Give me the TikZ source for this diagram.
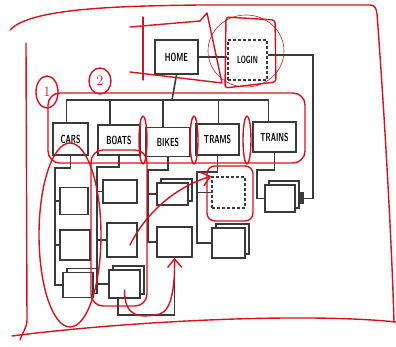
\documentclass[tikz,border=0pt]{standalone}
\usepackage{tikz}
\usetikzlibrary{positioning,arrows.meta,calc,shapes.geometric,shadows}
\definecolor{inkc}{RGB}{58,58,58}
\definecolor{notec}{RGB}{214,18,32}
\newcommand{\scrawl}[1]{\scalebox{0.8}[1.3]{\sffamily\bfseries #1}}
\tikzset{
  page/.style  = {draw=inkc, line width=1.6pt, fill=white, inner sep=0pt, font=\small},
  pile/.style  = {page, copy shadow={shadow xshift=4pt, shadow yshift=4pt, draw=inkc,
                  fill=white, line width=1.6pt}},
  ghost/.style = {page, densely dashed},
  link/.style  = {draw=inkc, line width=1.6pt},
  note/.style  = {draw=notec, line width=1.4pt, line cap=round, line join=round},
  num/.style   = {text=notec, inner sep=0pt, font=\Large},
  plug/.style  = {fill=inkc, minimum width=5pt, minimum height=12pt, inner sep=0pt},
  shove/.style = {note, -{Straight Barb[length=3mm, width=5mm]}},
}

\begin{document}
\begin{tikzpicture}[x=1pt, y=-1pt]
\useasboundingbox (0,0) rectangle (396,347);

% top level
\node[page, minimum width=43, minimum height=34] (home) at (176.5,57) {\scrawl{HOME}};
\node[ghost, minimum width=39, minimum height=40] (login) at (247.5,60) {\scrawl{\footnotesize LOGIN}};

% sections
\node[page, minimum width=35, minimum height=32] (cars)   at (70.5,139) {\scrawl{CARS}};
\node[page, minimum width=42, minimum height=30] (boats)  at (119,140)  {\scrawl{BOATS}};
\node[page, minimum width=44, minimum height=29] (bikes)  at (168,142)  {\scrawl{BIKES}};
\node[page, minimum width=43, minimum height=31] (trams)  at (217.5,139.5) {\scrawl{TRAMS}};
\node[page, minimum width=43, minimum height=30] (trains) at (274.5,137) {\scrawl{TRAINS}};

% pages under each section
\node[page, minimum width=28, minimum height=27] (cars1) at (74,201) {};
\node[page, minimum width=30, minimum height=30] (cars2) at (75,245) {};
\node[pile, minimum width=30, minimum height=25] (cars3) at (78,285) {};
\node[page, minimum width=34, minimum height=23] (boats1) at (120,191.5) {};
\node[page, minimum width=30, minimum height=34] (boats2) at (122,240) {};
\node[pile, minimum width=31, minimum height=28] (boats3) at (124.5,284) {};
\node[pile, minimum width=31, minimum height=22] (bikes1) at (172.5,194) {};
\node[page, minimum width=35, minimum height=30] (bikes2) at (174.5,242) {};
\node[ghost, minimum width=33, minimum height=31] (trams1) at (228.5,192.5) {};
\node[pile, minimum width=33, minimum height=30] (trams2) at (228.5,243) {};
\node[pile, minimum width=30, minimum height=27] (trains1) at (280,198.5) {};
\node[plug, right=3pt of trains1] (plug) {};

% links
\coordinate (bus) at (172,100);
\draw[link] (home.east) -- (home.east -| login.west);
\draw[link] (home.south) -- (bus);
\draw[link] ([xshift=-4pt]cars.north) |- (bus) -| ([xshift=-6pt]trains.north);
\foreach \n/\s in {boats/-9, bikes/-5, trams/1}
  \draw[link] ([xshift=\s pt]\n.north) -- ([xshift=\s pt]\n.north |- bus);

\coordinate (carsspine) at (55,168);
\draw[link] (cars.south) |- (carsspine) |- (cars3.west);
\foreach \p in {cars1, cars2} \draw[link] (\p.west -| carsspine) -- (\p.west);
\coordinate (boatsspine) at (97,167);
\draw[link] (boats.south) |- (boatsspine) |- (boats3.west);
\foreach \p in {boats1, boats2} \draw[link] (\p.west -| boatsspine) -- (\p.west);
\coordinate (bikesspine) at (148,170);
\draw[link] (bikes.south) |- (bikesspine) |- (bikes2.west);
\draw[link] (bikes1.west -| bikesspine) -- (bikes1.west);
\coordinate (tramsspine) at (197,172);
\draw[link] (trams.south) |- (tramsspine) |- (trams2.west);
\draw[link] (trams1.west -| tramsspine) -- (trams1.west);
\coordinate (trainsspine) at (257,170);
\draw[link] (trains.south) |- (trainsspine) |- (trains1.west);

\coordinate (loop) at (118,315);
\draw[link] (boats3.south -| loop) -- (loop) -| (bikes2.south);
\coordinate (elbow) at (313,55);
\draw[link] (plug.east) -| (elbow) -- (elbow -| login.east);

% red review marks
\draw[note] (10,30) .. controls (30,8) and (120,6) .. (200,5) -- (370,5)
  .. controls (375,5) and (376,8) .. (377,14) .. controls (385,120) and (392,250) .. (394,322);
\draw[note] (12,336) .. controls (120,322) and (300,312) .. (396,322);
\draw[note] (26,43) -- (27,320) .. controls (27,328) and (22,333) .. (20,340);

\node[num] (one) at (47,92) {1};
\draw[note] (one) ellipse [x radius=11, y radius=16];
\node[num] (two) at (100,81) {2};
\draw[note] (two) ellipse [x radius=11, y radius=13];

\draw[note] (130,27) -- (200,21) -- (207,13) -- (222,83) -- (130,72);
\draw[note] (143,17) -- (143,80);
\draw[note, rounded corners=3pt] (226,17) -- (275,20) -- (276,82) -- (225,88) -- cycle;
\draw[note, line width=0.6pt] (246,51) ellipse [x radius=38, y radius=36];

\draw[note, rounded corners=12pt] (48,93) rectangle (305,163);
\foreach \x in {143,194,247}
  \draw[note] (\x,140) ellipse [x radius=4, y radius=24];

\draw[note] (70,235) ellipse [x radius=31, y radius=92];
\draw[note, rounded corners=12pt] (91,150) rectangle (147,306);
\draw[note, rounded corners=8pt] (207,166) rectangle (253,221);

\draw[shove] ([xshift=8pt, yshift=-5pt]boats2.center) .. controls +(20,-40) and +(-27,8) .. (trams1.north west);
\draw[shove] ([yshift=-6pt]boats3.center) .. controls +(0,28) and +(-20,4) .. (160,314)
  .. controls (172,310) and (175,285) .. (bikes2.south);

\end{tikzpicture}
\end{document}
